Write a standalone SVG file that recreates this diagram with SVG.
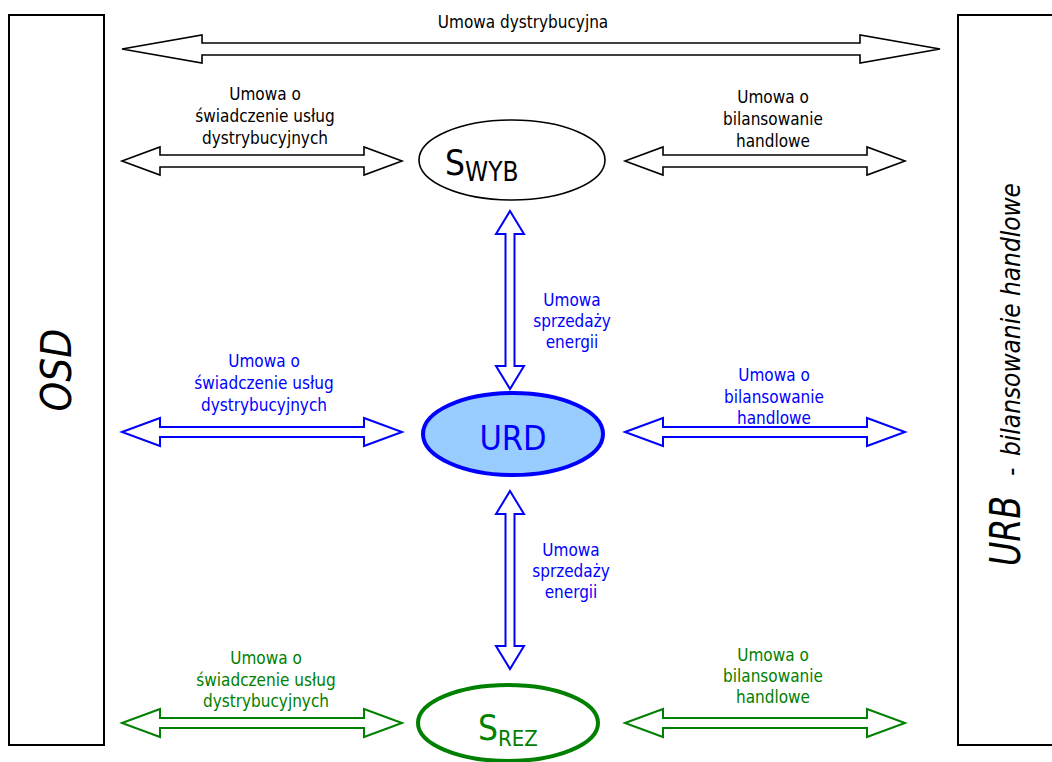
<svg xmlns="http://www.w3.org/2000/svg" width="1052" height="762" viewBox="0 0 1052 762">
  <style>
    text { font-family: "DejaVu Sans Condensed", "DejaVu Sans", sans-serif; }
    .lbl { font-size: 17px; text-anchor: middle; }
    .k { fill: #000000; }
    .b { fill: #0000ff; }
    .g { fill: #008000; }
    .box { fill: #ffffff; stroke: #000000; stroke-width: 2; }
    .arK { fill: #ffffff; stroke: #000000; stroke-width: 1.6; stroke-linejoin: miter; }
    .arB { fill: #ffffff; stroke: #0000ff; stroke-width: 2; stroke-linejoin: miter; }
    .arG { fill: #ffffff; stroke: #008000; stroke-width: 2; stroke-linejoin: miter; }
    .side { font-style: italic; fill: #000000; }
  </style>

  <!-- side parties -->
  <g id="osd">
    <rect class="box" x="9" y="15" width="95" height="730"/>
    <text class="side" font-size="42" text-anchor="middle" transform="translate(71,370) rotate(-90)">OSD</text>
  </g>
  <g id="urb">
    <rect class="box" x="958" y="15" width="100" height="730"/>
    <text class="side" font-size="42" textLength="70" lengthAdjust="spacingAndGlyphs" transform="translate(1020,566) rotate(-90)">URB</text>
    <text class="side" font-size="26" transform="translate(1020,476) rotate(-90)">-</text>
    <text class="side" font-size="26" textLength="273" lengthAdjust="spacingAndGlyphs" transform="translate(1020,456) rotate(-90)">bilansowanie handlowe</text>
  </g>

  <!-- market participants -->
  <g id="swyb">
    <ellipse cx="512" cy="160" rx="93" ry="40" fill="#ffffff" stroke="#000000" stroke-width="1.6"/>
    <text x="445" y="175" font-size="35" class="k">S<tspan font-size="26" dy="6">WYB</tspan></text>
  </g>
  <g id="urd">
    <ellipse cx="513" cy="434" rx="90" ry="41" fill="#99ccff" stroke="#0000ff" stroke-width="4"/>
    <text x="513" y="450" font-size="34" text-anchor="middle" class="b">URD</text>
  </g>
  <g id="srez">
    <ellipse cx="508" cy="723" rx="90" ry="38" fill="#ffffff" stroke="#008000" stroke-width="4"/>
    <text x="478" y="740" font-size="35" class="g">S<tspan font-size="22" dy="6">REZ</tspan></text>
  </g>

  <!-- contracts (double arrows) -->
  <g id="connectors">
    <path class="arK" d="M122,49 L202,35 L202,43 L860,43 L860,35 L940,49 L860,63 L860,55 L202,55 L202,63 Z"/>
    <path class="arK" d="M122,161 L160,147 L160,155 L364,155 L364,147 L402,161 L364,175 L364,167 L160,167 L160,175 Z"/>
    <path class="arK" d="M625,161 L663,147 L663,155 L867,155 L867,147 L905,161 L867,175 L867,167 L663,167 L663,175 Z"/>
    <path class="arB" d="M122,432 L160,418 L160,427 L364,427 L364,418 L402,432 L364,446 L364,437 L160,437 L160,446 Z"/>
    <path class="arB" d="M625,432 L663,418 L663,427 L867,427 L867,418 L905,432 L867,446 L867,437 L663,437 L663,446 Z"/>
    <path class="arG" d="M122,723 L160,709 L160,718 L364,718 L364,709 L402,723 L364,737 L364,728 L160,728 L160,737 Z"/>
    <path class="arG" d="M625,723 L663,709 L663,718 L867,718 L867,709 L905,723 L867,737 L867,728 L663,728 L663,737 Z"/>
    <path class="arB" d="M510,211 L524,234 L514.5,234 L514.5,366 L524,366 L510,389 L496,366 L505.5,366 L505.5,234 L496,234 Z"/>
    <path class="arB" d="M510,491 L524,514 L514.5,514 L514.5,646 L524,646 L510,669 L496,646 L505.5,646 L505.5,514 L496,514 Z"/>

    <text class="lbl k" x="523" y="28">Umowa dystrybucyjna</text>

    <text class="lbl k" x="265" y="100">Umowa o</text>
    <text class="lbl k" x="265" y="122">świadczenie usług</text>
    <text class="lbl k" x="265" y="144">dystrybucyjnych</text>

    <text class="lbl k" x="773" y="103">Umowa o</text>
    <text class="lbl k" x="773" y="125">bilansowanie</text>
    <text class="lbl k" x="773" y="147">handlowe</text>

    <text class="lbl b" x="572" y="306">Umowa</text>
    <text class="lbl b" x="572" y="327">sprzedaży</text>
    <text class="lbl b" x="572" y="348">energii</text>

    <text class="lbl b" x="264" y="367">Umowa o</text>
    <text class="lbl b" x="264" y="389">świadczenie usług</text>
    <text class="lbl b" x="264" y="411">dystrybucyjnych</text>

    <text class="lbl b" x="774" y="381">Umowa o</text>
    <text class="lbl b" x="774" y="403">bilansowanie</text>
    <text class="lbl b" x="774" y="424">handlowe</text>

    <text class="lbl b" x="571" y="556">Umowa</text>
    <text class="lbl b" x="571" y="577">sprzedaży</text>
    <text class="lbl b" x="571" y="598">energii</text>

    <text class="lbl g" x="266" y="664">Umowa o</text>
    <text class="lbl g" x="266" y="686">świadczenie usług</text>
    <text class="lbl g" x="266" y="707">dystrybucyjnych</text>

    <text class="lbl g" x="773" y="661">Umowa o</text>
    <text class="lbl g" x="773" y="682">bilansowanie</text>
    <text class="lbl g" x="773" y="703">handlowe</text>
  </g>
</svg>
